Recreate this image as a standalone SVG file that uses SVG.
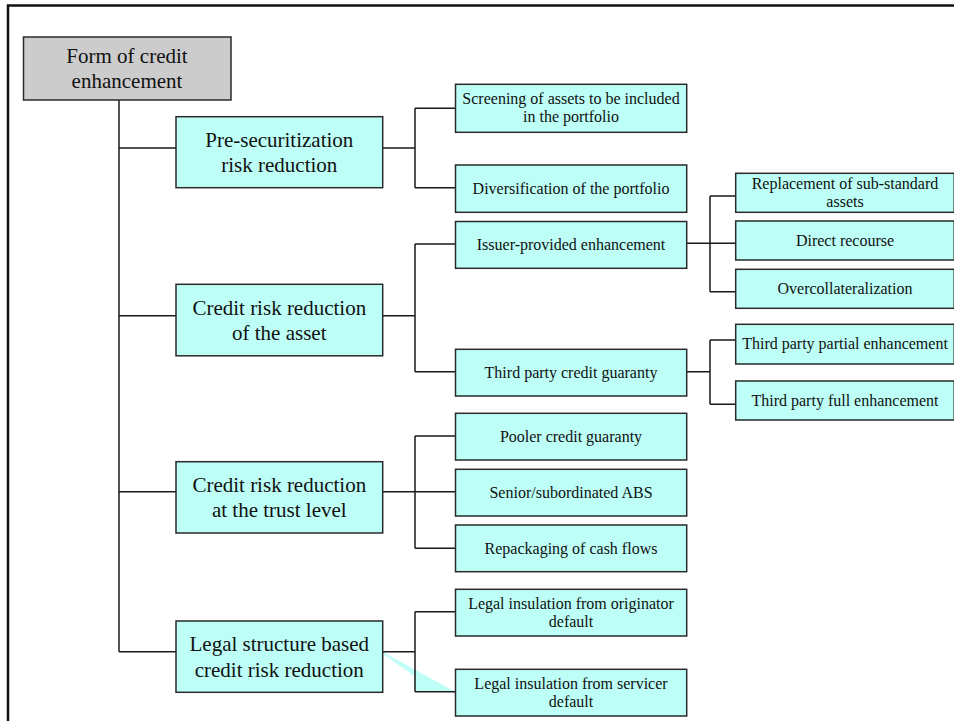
<svg xmlns="http://www.w3.org/2000/svg" width="954" height="721" viewBox="0 0 954 721">
<style>
  .box { fill: #bdfff7; stroke: #2a2a2a; stroke-width: 1.5; }
  .root { fill: #cccccc; stroke: #2a2a2a; stroke-width: 1.5; }
  .big { font-family: "Liberation Serif", "Times New Roman", serif; font-size: 21px; fill: #111; text-anchor: middle; }
  .small { font-family: "Liberation Serif", "Times New Roman", serif; font-size: 16px; fill: #111; text-anchor: middle; }
  .conn { fill: none; stroke: #1a1a1a; stroke-width: 1.5; }
  .frame { fill: none; stroke: #111; stroke-width: 2.5; }
</style>
<rect x="0" y="0" width="954" height="721" fill="#ffffff"/>
<path class="frame" d="M8 721 V5.5 H954"/>

<g id="connectors">
  <path class="conn" d="M119 100 V651.7"/>
  <path class="conn" d="M119 148 H176 M119 315.7 H176 M119 491.7 H176 M119 651.7 H176"/>
  <path class="conn" d="M382.7 148 H415 M415 108.3 V187.7 M415 108.3 H455.5 M415 187.7 H455.5"/>
  <path class="conn" d="M382.7 315.7 H415 M415 244 V371.7 M415 244 H455.5 M415 371.7 H455.5"/>
  <path class="conn" d="M382.7 491.7 H455.5 M415 436 V548.3 M415 436 H455.5 M415 548.3 H455.5"/>
  <polygon points="383.3,652.3 455,691.7 414.3,691.7 414.3,676 383.3,654" fill="#bdfff7" stroke="none"/>
  <path class="conn" d="M382.7 651.7 H415 M415 611.7 V691.7 M415 611.7 H455.5 M415 691.7 H455.5"/>
  <path class="conn" d="M686.7 243.3 H735.7 M710 196 V291.7 M710 196 H735.7 M710 291.7 H735.7"/>
  <path class="conn" d="M686.7 371.7 H710 M710 340 V404.3 M710 340 H735.7 M710 404.3 H735.7"/>
</g>

<g id="root">
  <rect class="root" x="23.5" y="37" width="207.5" height="63"/>
  <text class="big" x="127" y="63.3">Form of credit</text>
  <text class="big" x="127" y="88.3">enhancement</text>
</g>

<g id="pre-securitization">
  <rect class="box" x="176" y="116.7" width="206.7" height="71"/>
  <text class="big" x="279.3" y="146.7">Pre-securitization</text>
  <text class="big" x="279.3" y="172.3">risk reduction</text>
</g>
<g id="asset">
  <rect class="box" x="176" y="284.3" width="206.7" height="71.5"/>
  <text class="big" x="279.3" y="314.5">Credit risk reduction</text>
  <text class="big" x="279.3" y="340">of the asset</text>
</g>
<g id="trust">
  <rect class="box" x="176" y="461.7" width="206.7" height="71.3"/>
  <text class="big" x="279.3" y="491.7">Credit risk reduction</text>
  <text class="big" x="279.3" y="517.2">at the trust level</text>
</g>
<g id="legal">
  <rect class="box" x="176" y="621" width="206.7" height="71.3"/>
  <text class="big" x="279.3" y="651">Legal structure based</text>
  <text class="big" x="279.3" y="676.5">credit risk reduction</text>
</g>

<g id="screening">
  <rect class="box" x="455.5" y="84.3" width="231.2" height="48"/>
  <text class="small" x="571" y="104.3">Screening of assets to be included</text>
  <text class="small" x="571" y="122">in the portfolio</text>
</g>
<g id="diversification">
  <rect class="box" x="455.5" y="165" width="231.2" height="47.3"/>
  <text class="small" x="571" y="193.5">Diversification of the portfolio</text>
</g>
<g id="issuer">
  <rect class="box" x="455.5" y="221.5" width="231.2" height="46.8"/>
  <text class="small" x="571" y="249.5">Issuer-provided enhancement</text>
</g>
<g id="third-party-guaranty">
  <rect class="box" x="455.5" y="349.3" width="231.2" height="46.7"/>
  <text class="small" x="571" y="377.5">Third party credit guaranty</text>
</g>
<g id="pooler">
  <rect class="box" x="455.5" y="413.3" width="231.2" height="46.7"/>
  <text class="small" x="571" y="441.5">Pooler credit guaranty</text>
</g>
<g id="senior">
  <rect class="box" x="455.5" y="469.3" width="231.2" height="46.7"/>
  <text class="small" x="571" y="497.5">Senior/subordinated ABS</text>
</g>
<g id="repackaging">
  <rect class="box" x="455.5" y="525" width="231.2" height="46.7"/>
  <text class="small" x="571" y="553.5">Repackaging of cash flows</text>
</g>
<g id="legal-originator">
  <rect class="box" x="455.5" y="589.3" width="231.2" height="46.7"/>
  <text class="small" x="571" y="608.5">Legal insulation from originator</text>
  <text class="small" x="571" y="626.5">default</text>
</g>
<g id="legal-servicer">
  <rect class="box" x="455.5" y="669.3" width="231.2" height="46.7"/>
  <text class="small" x="571" y="688.5">Legal insulation from servicer</text>
  <text class="small" x="571" y="706.5">default</text>
</g>

<g id="replacement">
  <rect class="box" x="735.7" y="173.3" width="218.5" height="39"/>
  <text class="small" x="845" y="188.5">Replacement of sub-standard</text>
  <text class="small" x="845" y="206.7">assets</text>
</g>
<g id="direct-recourse">
  <rect class="box" x="735.7" y="221" width="218.5" height="39"/>
  <text class="small" x="845" y="245.5">Direct recourse</text>
</g>
<g id="overcollateralization">
  <rect class="box" x="735.7" y="269.3" width="218.5" height="39"/>
  <text class="small" x="845" y="293.8">Overcollateralization</text>
</g>
<g id="partial">
  <rect class="box" x="735.7" y="324.3" width="218.5" height="39.7"/>
  <text class="small" x="845" y="349">Third party partial enhancement</text>
</g>
<g id="full">
  <rect class="box" x="735.7" y="381" width="218.5" height="39"/>
  <text class="small" x="845" y="405.5">Third party full enhancement</text>
</g>
</svg>
